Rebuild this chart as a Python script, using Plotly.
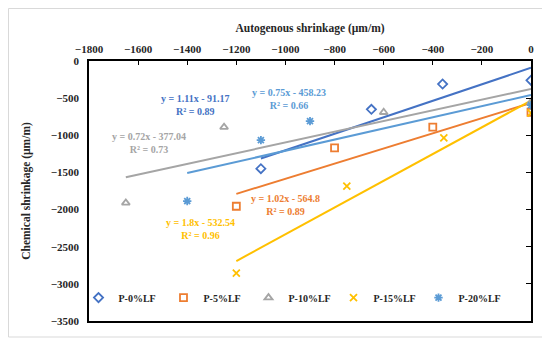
import plotly.graph_objects as go

names = ["P-0%LF", "P-5%LF", "P-10%LF", "P-15%LF", "P-20%LF"]
colors = ["#4472C4", "#ED7D31", "#A5A5A5", "#FFC000", "#5B9BD5"]
symbols = ["diamond-open", "square-open", "triangle-up-open", "x-thin-open", "asterisk-open"]

# Autogenous shrinkage (x) and chemical shrinkage (y), µm/m
x_p0 = [0, -360, -650, -1100]
y_p0 = [-260, -310, -650, -1450]
x_p5 = [0, -400, -800, -1200]
y_p5 = [-690, -890, -1170, -1955]
x_p10 = [0, -600, -1250, -1650]
y_p10 = [-555, -690, -890, -1910]
x_p15 = [0, -355, -750, -1200]
y_p15 = [-700, -1035, -1685, -2855]
x_p20 = [0, -900, -1100, -1400]
y_p20 = [-595, -810, -1065, -1885]

xs = [x_p0, x_p5, x_p10, x_p15, x_p20]
ys = [y_p0, y_p5, y_p10, y_p15, y_p20]

# Linear trendline coefficients (as printed on the chart)
slopes = [1.11, 1.02, 0.72, 1.8, 0.75]
intercepts = [-91.17, -564.8, -377.04, -532.54, -458.23]
r2 = [0.89, 0.89, 0.73, 0.96, 0.66]
eq_labels = ["y = 1.11x - 91.17", "y = 1.02x - 564.8", "y = 0.72x - 377.04",
             "y = 1.8x - 532.54", "y = 0.75x - 458.23"]
# label positions (data coords)
lab_x = [-1370, -1000, -1555, -1345, -985]
lab_y = [-590, -1940, -1100, -2260, -505]

FONT = "Liberation Serif"

fig = go.Figure()
for i in range(5):
    x0, x1 = min(xs[i]), max(xs[i])
    fig.add_trace(go.Scatter(
        x=[x0, x1], y=[slopes[i] * x0 + intercepts[i], slopes[i] * x1 + intercepts[i]],
        mode="lines", line=dict(color=colors[i], width=2), showlegend=False, hoverinfo="skip"))
for i in range(5):
    fig.add_trace(go.Scatter(
        x=xs[i], y=ys[i], mode="markers", name=names[i],
        marker=dict(symbol=symbols[i], color=colors[i], size=7,
                    line=dict(color=colors[i], width=1.8))))

for i in range(5):
    fig.add_annotation(x=lab_x[i], y=lab_y[i], xref="x", yref="y",
                       text=f"<b>{eq_labels[i]}<br>R² = {r2[i]}</b>",
                       showarrow=False, align="center",
                       font=dict(family=FONT, size=10, color=colors[i]))

L, T = 81, 53
fig.update_layout(
    width=542, height=333,
    margin=dict(l=L, r=19, t=T, b=20, autoexpand=False),
    paper_bgcolor="white", plot_bgcolor="white",
    font=dict(family=FONT, color="#262626"),
    xaxis=dict(range=[-1800, 0], dtick=200, side="top", showgrid=False, zeroline=False,
               automargin=False,
               showline=True, linecolor="black", linewidth=1.5, mirror=True,
               ticks="inside", ticklen=4, tickcolor="black", ticklabelstandoff=2,
               tickfont=dict(family=FONT, size=11, weight="bold", color="#262626"),
               title=dict(text="<b>Autogenous shrinkage (µm/m)</b>", standoff=8,
                          font=dict(family=FONT, size=11.5, color="#262626"))),
    yaxis=dict(range=[-3500, 0], dtick=500, showgrid=False, zeroline=False,
               automargin=False,
               showline=True, linecolor="black", linewidth=1.5, mirror=True,
               ticks="", ticklabelstandoff=6,
               tickfont=dict(family=FONT, size=11, weight="bold", color="#262626"),
               title=dict(text="<b>Chemical shrinkage (µm/m)</b>", standoff=18,
                          font=dict(family=FONT, size=11.5, color="#262626"))),
    yaxis2=dict(range=[-3500, 0], dtick=500, overlaying="y", side="right",
                automargin=False,
                showgrid=False, zeroline=False, showticklabels=False,
                ticks="inside", ticklen=5, tickcolor="black"),
    legend=dict(orientation="h", x=0.457, xanchor="center", y=0.09, yanchor="middle",
                bgcolor="rgba(0,0,0,0)", itemwidth=30, entrywidth=40, tracegroupgap=0,
                font=dict(family=FONT, size=10, weight="bold", color="#262626")),
    shapes=[dict(type="rect", xref="paper", yref="paper",
                 x0=(0.5 - L) / 442, x1=(539 - L) / 442,
                 y0=(313 - 329) / 260, y1=(313 - 0.5) / 260,
                 line=dict(color="#D9D9D9", width=1), layer="below")],
)
# dummy trace to activate yaxis2
fig.add_trace(go.Scatter(x=[None], y=[None], yaxis="y2", showlegend=False, hoverinfo="skip"))

fig.write_html("out.html")
